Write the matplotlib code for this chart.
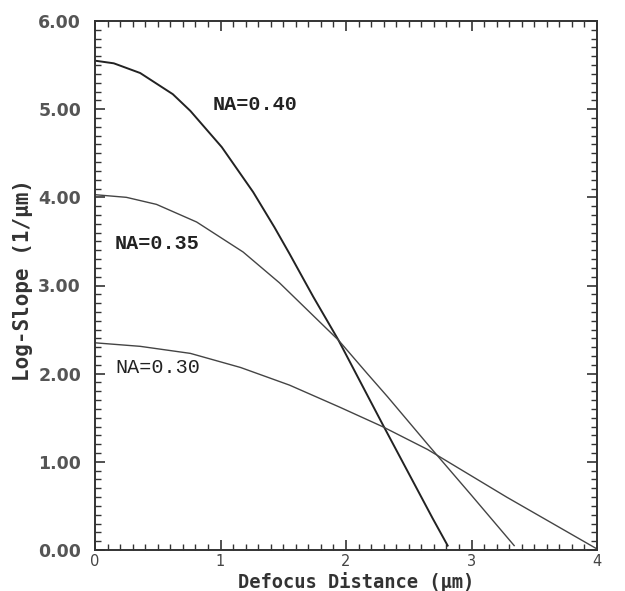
import matplotlib
matplotlib.use("Agg")
import matplotlib.pyplot as plt
from matplotlib.ticker import MultipleLocator, FormatStrFormatter

# curves (defocus in um, log-slope in 1/um)
x_040 = [0.0, 0.15, 0.36, 0.62, 0.76, 1.01, 1.26, 1.43, 1.55, 1.67, 1.74, 1.94, 2.29, 2.69, 2.81]
y_040 = [5.55, 5.52, 5.41, 5.17, 4.98, 4.57, 4.06, 3.66, 3.36, 3.05, 2.87, 2.38, 1.43, 0.36, 0.05]

x_035 = [0.0, 0.25, 0.49, 0.81, 1.18, 1.47, 1.94, 2.17, 2.33, 2.65, 3.0, 3.34]
y_035 = [4.03, 4.0, 3.92, 3.72, 3.38, 3.03, 2.38, 2.0, 1.74, 1.2, 0.62, 0.05]

x_030 = [0.0, 0.36, 0.76, 1.16, 1.55, 1.95, 2.29, 2.65, 3.28, 3.99]
y_030 = [2.35, 2.31, 2.23, 2.07, 1.87, 1.62, 1.40, 1.14, 0.60, 0.02]

labels = ["NA=0.40", "NA=0.35", "NA=0.30"]
label_xy = [(0.94, 5.05), (0.16, 3.48), (0.16, 2.07)]

fig = plt.figure(figsize=(6.25, 5.91), dpi=100)
ax = fig.add_axes([95/625, 41/591, 502/625, 529/591])

ax.plot(x_040, y_040, color="#222222", lw=1.4)
ax.plot(x_035, y_035, color="#444444", lw=1.0)
ax.plot(x_030, y_030, color="#444444", lw=1.0)

weights = ["bold", "bold", "normal"]
for t, (lx, ly), w in zip(labels, label_xy, weights):
    ax.text(lx, ly, t, family="Liberation Mono", fontsize=14.5, weight=w,
            color="#222222", va="center", ha="left")

ax.set_xlim(0, 4)
ax.set_ylim(0, 6)
ax.xaxis.set_major_locator(MultipleLocator(1))
ax.xaxis.set_minor_locator(MultipleLocator(0.1))
ax.yaxis.set_major_locator(MultipleLocator(1))
ax.yaxis.set_minor_locator(MultipleLocator(0.1))
ax.yaxis.set_major_formatter(FormatStrFormatter("%.2f"))

ax.tick_params(which="both", direction="in", top=True, right=True, color="#333333")
ax.tick_params(which="major", length=7, width=1.2)
ax.tick_params(which="minor", length=4, width=1.0)
ax.tick_params(axis="y", which="major", pad=10, labelsize=12.5, labelcolor="#555555")
ax.tick_params(axis="x", which="major", pad=3, labelsize=10.5, labelcolor="#444444")
for lab in ax.get_yticklabels():
    lab.set_fontweight("bold")
for s in ax.spines.values():
    s.set_linewidth(1.4)
    s.set_color("#333333")

ax.set_xlabel("Defocus Distance (\u03bcm)", family="DejaVu Sans Mono", fontsize=13.5,
              weight="bold", color="#333333")
ax.set_ylabel("Log-Slope (1/\u03bcm)", family="DejaVu Sans Mono", fontsize=15,
              weight="bold", color="#333333")
ax.xaxis.set_label_coords(0.52, -0.041)
ax.yaxis.set_label_coords(-0.124, 0.51)

fig.savefig("out.png", dpi=100)
